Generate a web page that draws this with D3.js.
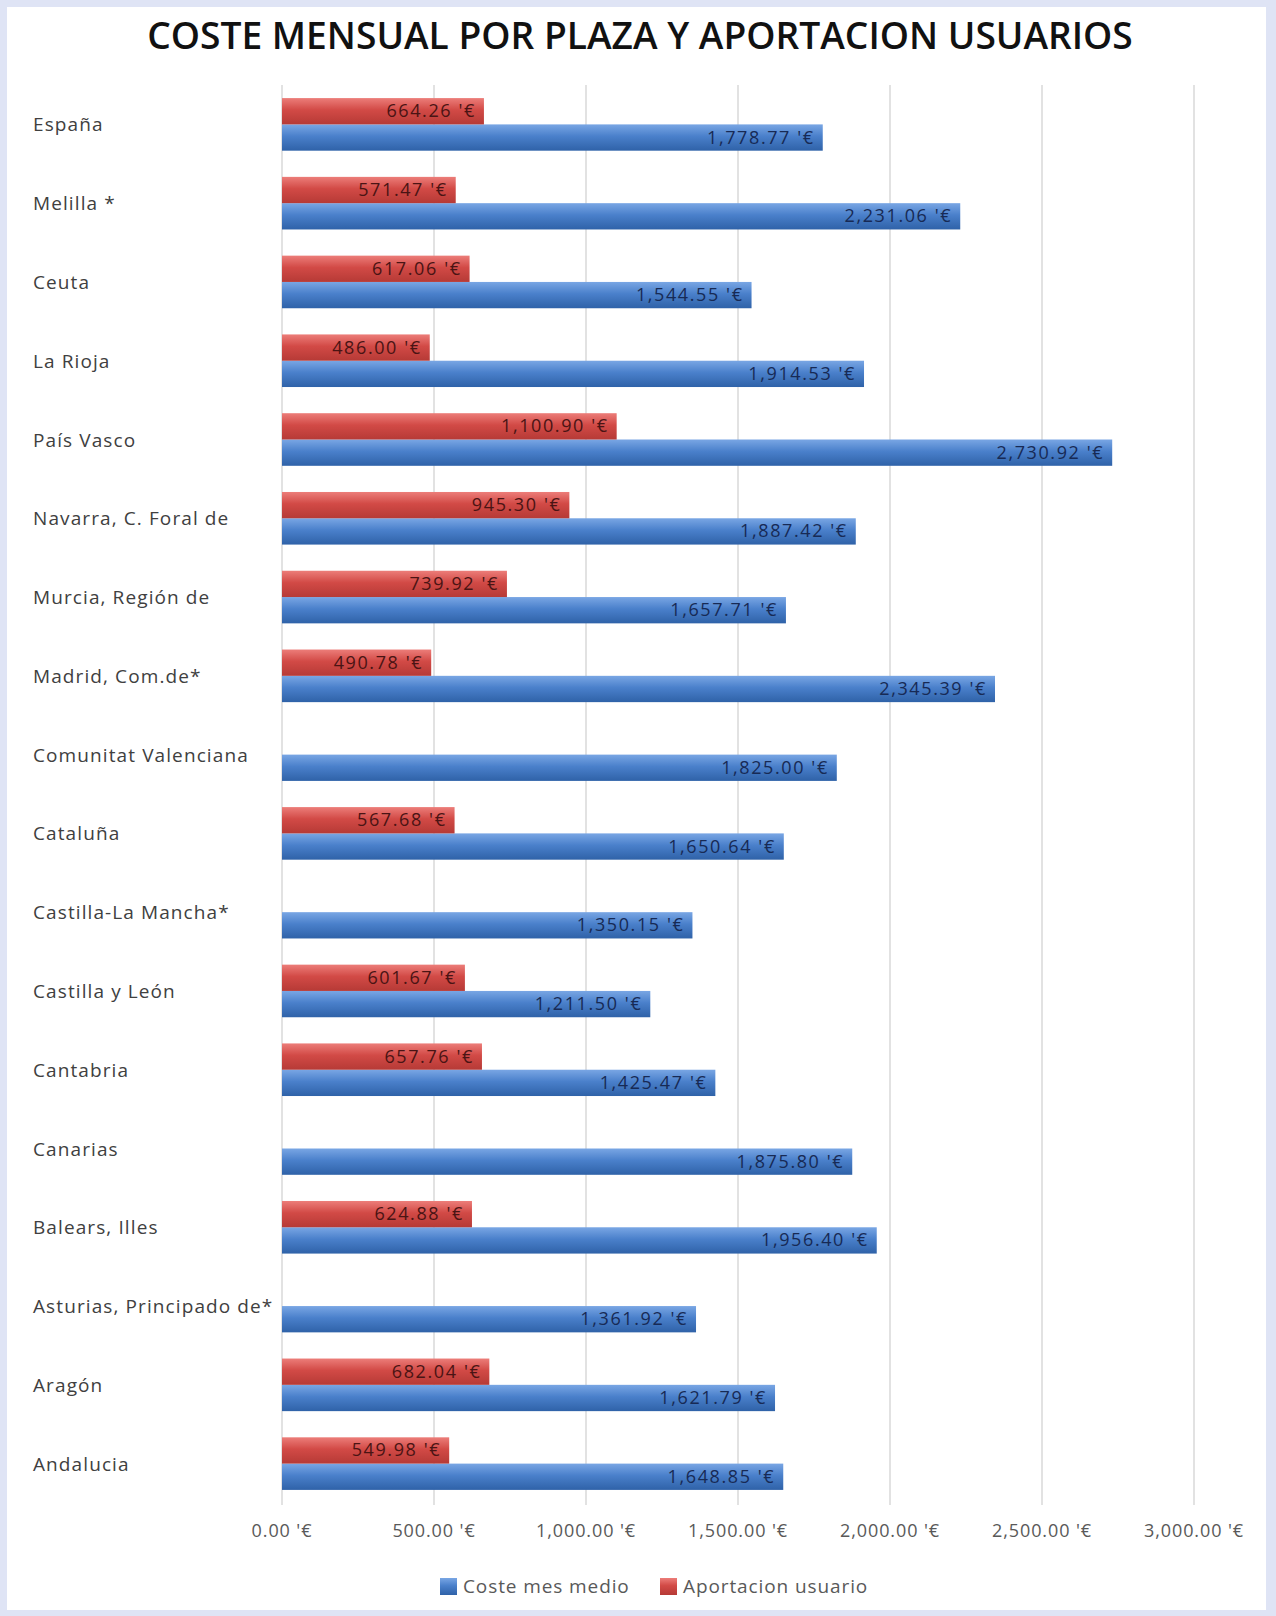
<!DOCTYPE html>
<html>
<head>
<meta charset="utf-8">
<script src="https://cdn.jsdelivr.net/npm/d3@7"></script>
<style>
  body { margin: 0; background: #dfe4f5; }
  svg { display: block; }
  text { font-family: "Open Sans", sans-serif; }
</style>
</head>
<body>
<svg id="chart" width="1276" height="1616"></svg>
<script>
const regiones = ["España", "Melilla *", "Ceuta", "La Rioja", "País Vasco", "Navarra, C. Foral de",
  "Murcia, Región de", "Madrid, Com.de*", "Comunitat Valenciana", "Cataluña", "Castilla-La Mancha*",
  "Castilla y León", "Cantabria", "Canarias", "Balears, Illes", "Asturias, Principado de*", "Aragón", "Andalucia"];

const costeMes = [1778.77, 2231.06, 1544.55, 1914.53, 2730.92, 1887.42, 1657.71, 2345.39, 1825.00,
  1650.64, 1350.15, 1211.50, 1425.47, 1875.80, 1956.40, 1361.92, 1621.79, 1648.85];

const aportacion = [664.26, 571.47, 617.06, 486.00, 1100.90, 945.30, 739.92, 490.78, null,
  567.68, null, 601.67, 657.76, null, 624.88, null, 682.04, 549.98];

const ticks = [0, 500, 1000, 1500, 2000, 2500, 3000];
const series = ["Coste mes medio", "Aportacion usuario"];

const fmt = function(v) { return d3.format(",.2f")(v) + " '€"; };

const svg = d3.select("#chart");

// white chart area inside the lavender frame
svg.append("rect")
  .attr("x", 7).attr("y", 7)
  .attr("width", 1259).attr("height", 1603)
  .attr("fill", "#ffffff");

const defs = svg.append("defs");
function gradient(id, stops) {
  let g = defs.append("linearGradient").attr("id", id)
    .attr("x1", 0).attr("y1", 0).attr("x2", 0).attr("y2", 1);
  stops.forEach(function(s) {
    g.append("stop").attr("offset", s[0]).attr("stop-color", s[1]);
  });
}
gradient("gBlue", [["0%", "#79a6e4"], ["45%", "#4a80cb"], ["100%", "#2f62a8"]]);
gradient("gRed", [["0%", "#ec7d79"], ["45%", "#d24a46"], ["100%", "#b63a36"]]);

// title, sized to the reference width
let title = svg.append("text")
  .attr("x", 640).attr("y", 49)
  .attr("text-anchor", "middle")
  .attr("font-size", 40)
  .attr("font-weight", 600)
  .attr("fill", "#111")
  .text("COSTE MENSUAL POR PLAZA Y APORTACION USUARIOS");
let tw = title.node().getComputedTextLength();
title.attr("font-size", 40 * 986 / tw);

const x = d3.scaleLinear().domain([0, 3000]).range([282, 1194]);
const y = d3.scaleBand().domain(regiones).range([85, 1503]).paddingInner(0);
const barH = 26.3;

// gridlines
svg.append("g").selectAll("line")
  .data(ticks)
  .enter().append("line")
  .attr("x1", function(d) { return x(d); })
  .attr("x2", function(d) { return x(d); })
  .attr("y1", 85).attr("y2", 1505)
  .attr("stroke", "#d9d9d9")
  .attr("stroke-width", 1.5);

// x tick labels
svg.append("g").selectAll("text")
  .data(ticks)
  .enter().append("text")
  .attr("x", function(d) { return x(d); })
  .attr("y", 1537)
  .attr("text-anchor", "middle")
  .attr("font-size", 18)
  .attr("letter-spacing", 0.9)
  .attr("fill", "#595959")
  .text(fmt);

// category labels
svg.append("g").selectAll("text")
  .data(regiones)
  .enter().append("text")
  .attr("x", 33)
  .attr("y", function(d) { return y(d) + y.bandwidth() / 2 + 7; })
  .attr("font-size", 19)
  .attr("letter-spacing", 1.1)
  .attr("fill", "#404040")
  .text(function(d) { return d; });

function center(i) { return y(regiones[i]) + y.bandwidth() / 2; }

// blue bars
let blue = svg.append("g").selectAll("g")
  .data(costeMes)
  .enter().append("g");
blue.append("rect")
  .attr("x", x(0))
  .attr("y", function(d, i) { return center(i); })
  .attr("width", function(d) { return x(d) - x(0); })
  .attr("height", barH)
  .attr("fill", "url(#gBlue)");
blue.append("text")
  .attr("x", function(d) { return x(d) - 8; })
  .attr("y", function(d, i) { return center(i) + barH / 2 + 6; })
  .attr("text-anchor", "end")
  .attr("font-size", 18)
  .attr("letter-spacing", 1.6)
  .attr("fill", "#172a55")
  .text(fmt);

// red bars
let redData = aportacion.map(function(v, i) { return { v: v, i: i }; })
  .filter(function(d) { return d.v !== null; });
let red = svg.append("g").selectAll("g")
  .data(redData)
  .enter().append("g");
red.append("rect")
  .attr("x", x(0))
  .attr("y", function(d) { return center(d.i) - barH; })
  .attr("width", function(d) { return x(d.v) - x(0); })
  .attr("height", barH)
  .attr("fill", "url(#gRed)");
red.append("text")
  .attr("x", function(d) { return x(d.v) - 8; })
  .attr("y", function(d) { return center(d.i) - barH / 2 + 6; })
  .attr("text-anchor", "end")
  .attr("font-size", 18)
  .attr("letter-spacing", 1.6)
  .attr("fill", "#4a1414")
  .text(function(d) { return fmt(d.v); });

// legend
const legendX = [440, 660];
const legendFill = ["url(#gBlue)", "url(#gRed)"];
let legend = svg.append("g").selectAll("g")
  .data(series)
  .enter().append("g")
  .attr("transform", function(d, i) { return "translate(" + legendX[i] + ",1578)"; });
legend.append("rect")
  .attr("width", 17).attr("height", 17)
  .attr("fill", function(d, i) { return legendFill[i]; });
legend.append("text")
  .attr("x", 23).attr("y", 15)
  .attr("font-size", 19)
  .attr("letter-spacing", 0.9)
  .attr("fill", "#595959")
  .text(function(d) { return d; });
</script>
</body>
</html>
